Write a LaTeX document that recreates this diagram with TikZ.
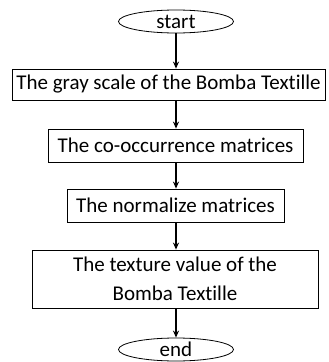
\documentclass[tikz,border=0pt]{standalone}
\usepackage{fontspec}
\setmainfont{Carlito}[Ligatures=NoCommon]
\usetikzlibrary{arrows.meta,shapes.geometric}
\tikzset{
  stepbox/.style={draw,line width=0.8pt,inner sep=0pt,align=center,font=\fontsize{21}{28.5}\selectfont},
  terminal/.style={draw,ellipse,line width=0.8pt,inner sep=0pt,minimum width=115pt,minimum height=23pt,font=\fontsize{21}{24}\selectfont},
  flow/.style={-{Stealth[length=7pt,width=6pt]},line width=1.3pt}
}
\begin{document}
\begin{tikzpicture}[x=1pt,y=-1pt]
            \useasboundingbox (0,0) rectangle (329,362);
            \node[terminal] (start) at (176,21.5) {start};
            \node[stepbox,minimum width=313pt,minimum height=31pt] (gray) at (168.5,84.5) {The gray scale of the Bomba Textille};
            \node[stepbox,minimum width=255pt,minimum height=33pt] (cooc) at (175.5,145.5) {The co-occurrence matrices};
            \node[stepbox,minimum width=217pt,minimum height=33pt] (norm) at (175.5,205.5) {The normalize matrices};
            \node[stepbox,minimum width=286pt,minimum height=58pt] (texture) at (175,279) {The texture value of the\\Bomba Textille};
            \node[terminal] (end) at (176,349.5) {end};
            \draw[flow] (start.south) -- (start.south |- gray.north);
            \draw[flow] (start.south |- gray.south) -- (start.south |- cooc.north);
            \draw[flow] (start.south |- cooc.south) -- (start.south |- norm.north);
            \draw[flow] (start.south |- norm.south) -- (start.south |- texture.north);
            \draw[flow] (start.south |- texture.south) -- (end.north);
        \end{tikzpicture}
\end{document}
